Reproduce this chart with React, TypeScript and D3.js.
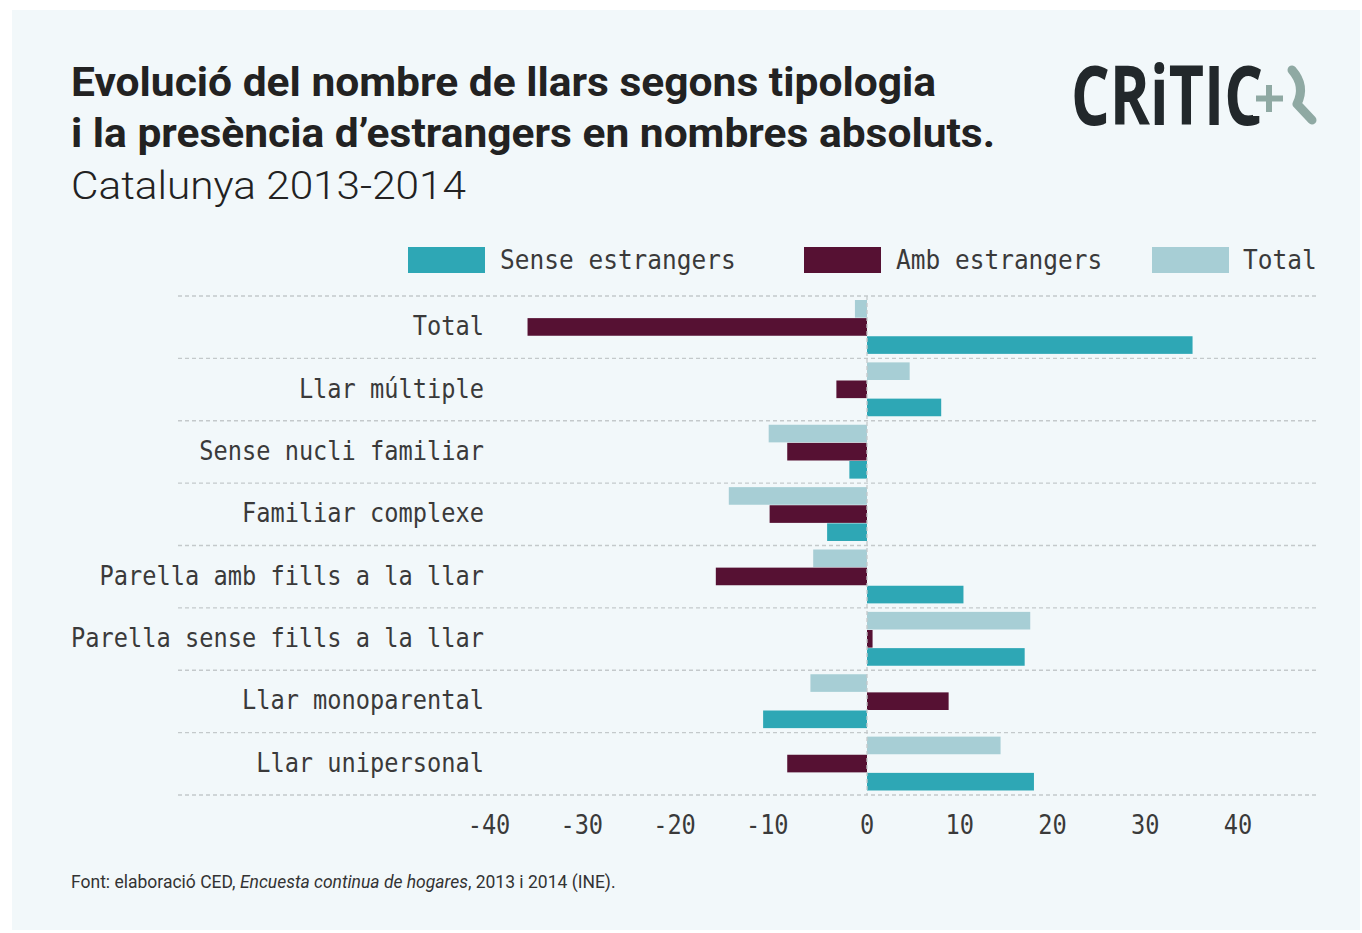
import React from "react";
import * as d3 from "d3";

const categories = [
  "Total",
  "Llar múltiple",
  "Sense nucli familiar",
  "Familiar complexe",
  "Parella amb fills a la llar",
  "Parella sense fills a la llar",
  "Llar monoparental",
  "Llar unipersonal",
];
const seriesKeys = ["total", "amb", "sense"];
const seriesNames = ["Sense estrangers", "Amb estrangers", "Total"];
const totalValues = [-1.3, 4.6, -10.6, -14.9, -5.8, 17.6, -6.1, 14.4];
const ambValues = [-36.6, -3.3, -8.6, -10.5, -16.3, 0.6, 8.8, -8.6];
const senseValues = [35.1, 8.0, -1.9, -4.3, 10.4, 17.0, -11.2, 18.0];
const tickValues = [-40, -30, -20, -10, 0, 10, 20, 30, 40];

const COLORS: Record<string, string> = {
  sense: "#2ea7b5",
  amb: "#561133",
  total: "#a7ced5",
};

function MonoText(props: {
  x: number;
  y: number;
  sx?: number;
  anchor?: "start" | "middle" | "end";
  children: React.ReactNode;
}) {
  const sx = props.sx ?? 0.986;
  return (
    <text
      transform={`translate(${props.x},${props.y}) scale(${sx},1.13)`}
      textAnchor={props.anchor || "start"}
      fontFamily="'DejaVu Sans Mono', monospace"
      fontSize={24}
      fill="#3a3a3a"
    >
      {props.children}
    </text>
  );
}

export default function App() {
  const W = 1362;
  const H = 933;
  const x = d3.scaleLinear().domain([-40, 40]).range([496, 1238]);
  const y = d3.scaleBand<string>().domain(categories).range([296, 795]).padding(0);
  const inner = d3
    .scaleBand<string>()
    .domain(seriesKeys)
    .range([4, y.bandwidth() - 4])
    .padding(0);
  const valuesByKey: Record<string, number[]> = {
    total: totalValues,
    amb: ambValues,
    sense: senseValues,
  };
  const legendItems = [
    { key: "sense", label: seriesNames[0], sx: 408, tx: 500 },
    { key: "amb", label: seriesNames[1], sx: 804, tx: 896 },
    { key: "total", label: seriesNames[2], sx: 1152, tx: 1243 },
  ];
  const gridYs = [...categories.map((c) => y(c) as number), 795];
  const halfChar = 7;

  return (
    <svg
      width={W}
      height={H}
      style={{ position: "absolute", left: 0, top: 0, background: "#ffffff" }}
    >
      <rect x={12} y={10} width={1348} height={920} fill="#f2f8fa" />

      {/* Title */}
      <text
        x={71}
        y={96}
        fontFamily="Roboto, sans-serif"
        fontWeight={700}
        fontSize={40}
        fill="#222"
        textLength={865}
        lengthAdjust="spacingAndGlyphs"
      >
        Evolució del nombre de llars segons tipologia
      </text>
      <text
        x={71}
        y={147}
        fontFamily="Roboto, sans-serif"
        fontWeight={700}
        fontSize={40}
        fill="#222"
        textLength={924}
        lengthAdjust="spacingAndGlyphs"
      >
        i la presència d’estrangers en nombres absoluts.
      </text>
      <text
        x={71}
        y={199}
        fontFamily="Roboto, sans-serif"
        fontWeight={300}
        fontSize={38}
        fill="#222"
        textLength={395}
        lengthAdjust="spacingAndGlyphs"
      >
        Catalunya 2013-2014
      </text>

      {/* Logo */}
      <g>
        <text
          x={1071}
          y={125}
          fontFamily="'Open Sans', sans-serif"
          fontWeight={700}
          fontSize={82}
          fill="#22282b"
          textLength={192}
          lengthAdjust="spacingAndGlyphs"
        >
          CRiTIC
        </text>
        <rect x={1253} y={84} width={32} height={32} fill="#f2f8fa" />
        <path
          d="M1269,85 L1269,112 M1256,98.5 L1283,98.5"
          stroke="#8fa9a3"
          strokeWidth={6}
          fill="none"
        />
        <path
          d="M1292,70 Q1306,86 1297,104 L1312,120"
          stroke="#8fa9a3"
          strokeWidth={9}
          strokeLinecap="round"
          strokeLinejoin="round"
          fill="none"
        />
      </g>

      {/* Legend */}
      {legendItems.map((d) => (
        <g key={d.key}>
          <rect x={d.sx} y={247} width={77} height={26} fill={COLORS[d.key]} />
          <MonoText x={d.tx} y={269} sx={1.02}>
            {d.label}
          </MonoText>
        </g>
      ))}

      {/* Grid lines */}
      {gridYs.map((gy, i) => (
        <line
          key={i}
          x1={178}
          x2={1318}
          y1={gy}
          y2={gy}
          stroke="#c4c9cb"
          strokeWidth={1.3}
          strokeDasharray="4,3"
        />
      ))}

      {/* Bars */}
      {categories.map((c, i) => (
        <g key={c} transform={`translate(0,${y(c)})`}>
          {seriesKeys.map((k) => {
            const v = valuesByKey[k][i];
            const x0 = x(Math.min(0, v));
            const x1 = x(Math.max(0, v));
            return (
              <rect
                key={k}
                x={x0}
                y={inner(k) as number}
                width={x1 - x0}
                height={inner.bandwidth() - 0.5}
                fill={COLORS[k]}
              />
            );
          })}
        </g>
      ))}

      {/* Zero line */}
      <line
        x1={x(0)}
        x2={x(0)}
        y1={296}
        y2={795}
        stroke="#c4c9cb"
        strokeWidth={1.3}
        strokeDasharray="4,3"
      />

      {/* Category labels */}
      {categories.map((c) => (
        <MonoText
          key={c}
          x={484}
          y={(y(c) as number) + y.bandwidth() / 2 + 8}
          anchor="end"
        >
          {c}
        </MonoText>
      ))}

      {/* X ticks */}
      {tickValues.map((t) => (
        <MonoText key={t} x={t < 0 ? x(t) - halfChar : x(t)} y={834} anchor="middle">
          {t}
        </MonoText>
      ))}

      {/* Footer */}
      <text x={71} y={888} fontFamily="Roboto, sans-serif" fontSize={17.5} fill="#333">
        <tspan>Font: elaboració CED, </tspan>
        <tspan fontStyle="italic">Encuesta continua de hogares</tspan>
        <tspan>, 2013 i 2014 (INE).</tspan>
      </text>
    </svg>
  );
}
